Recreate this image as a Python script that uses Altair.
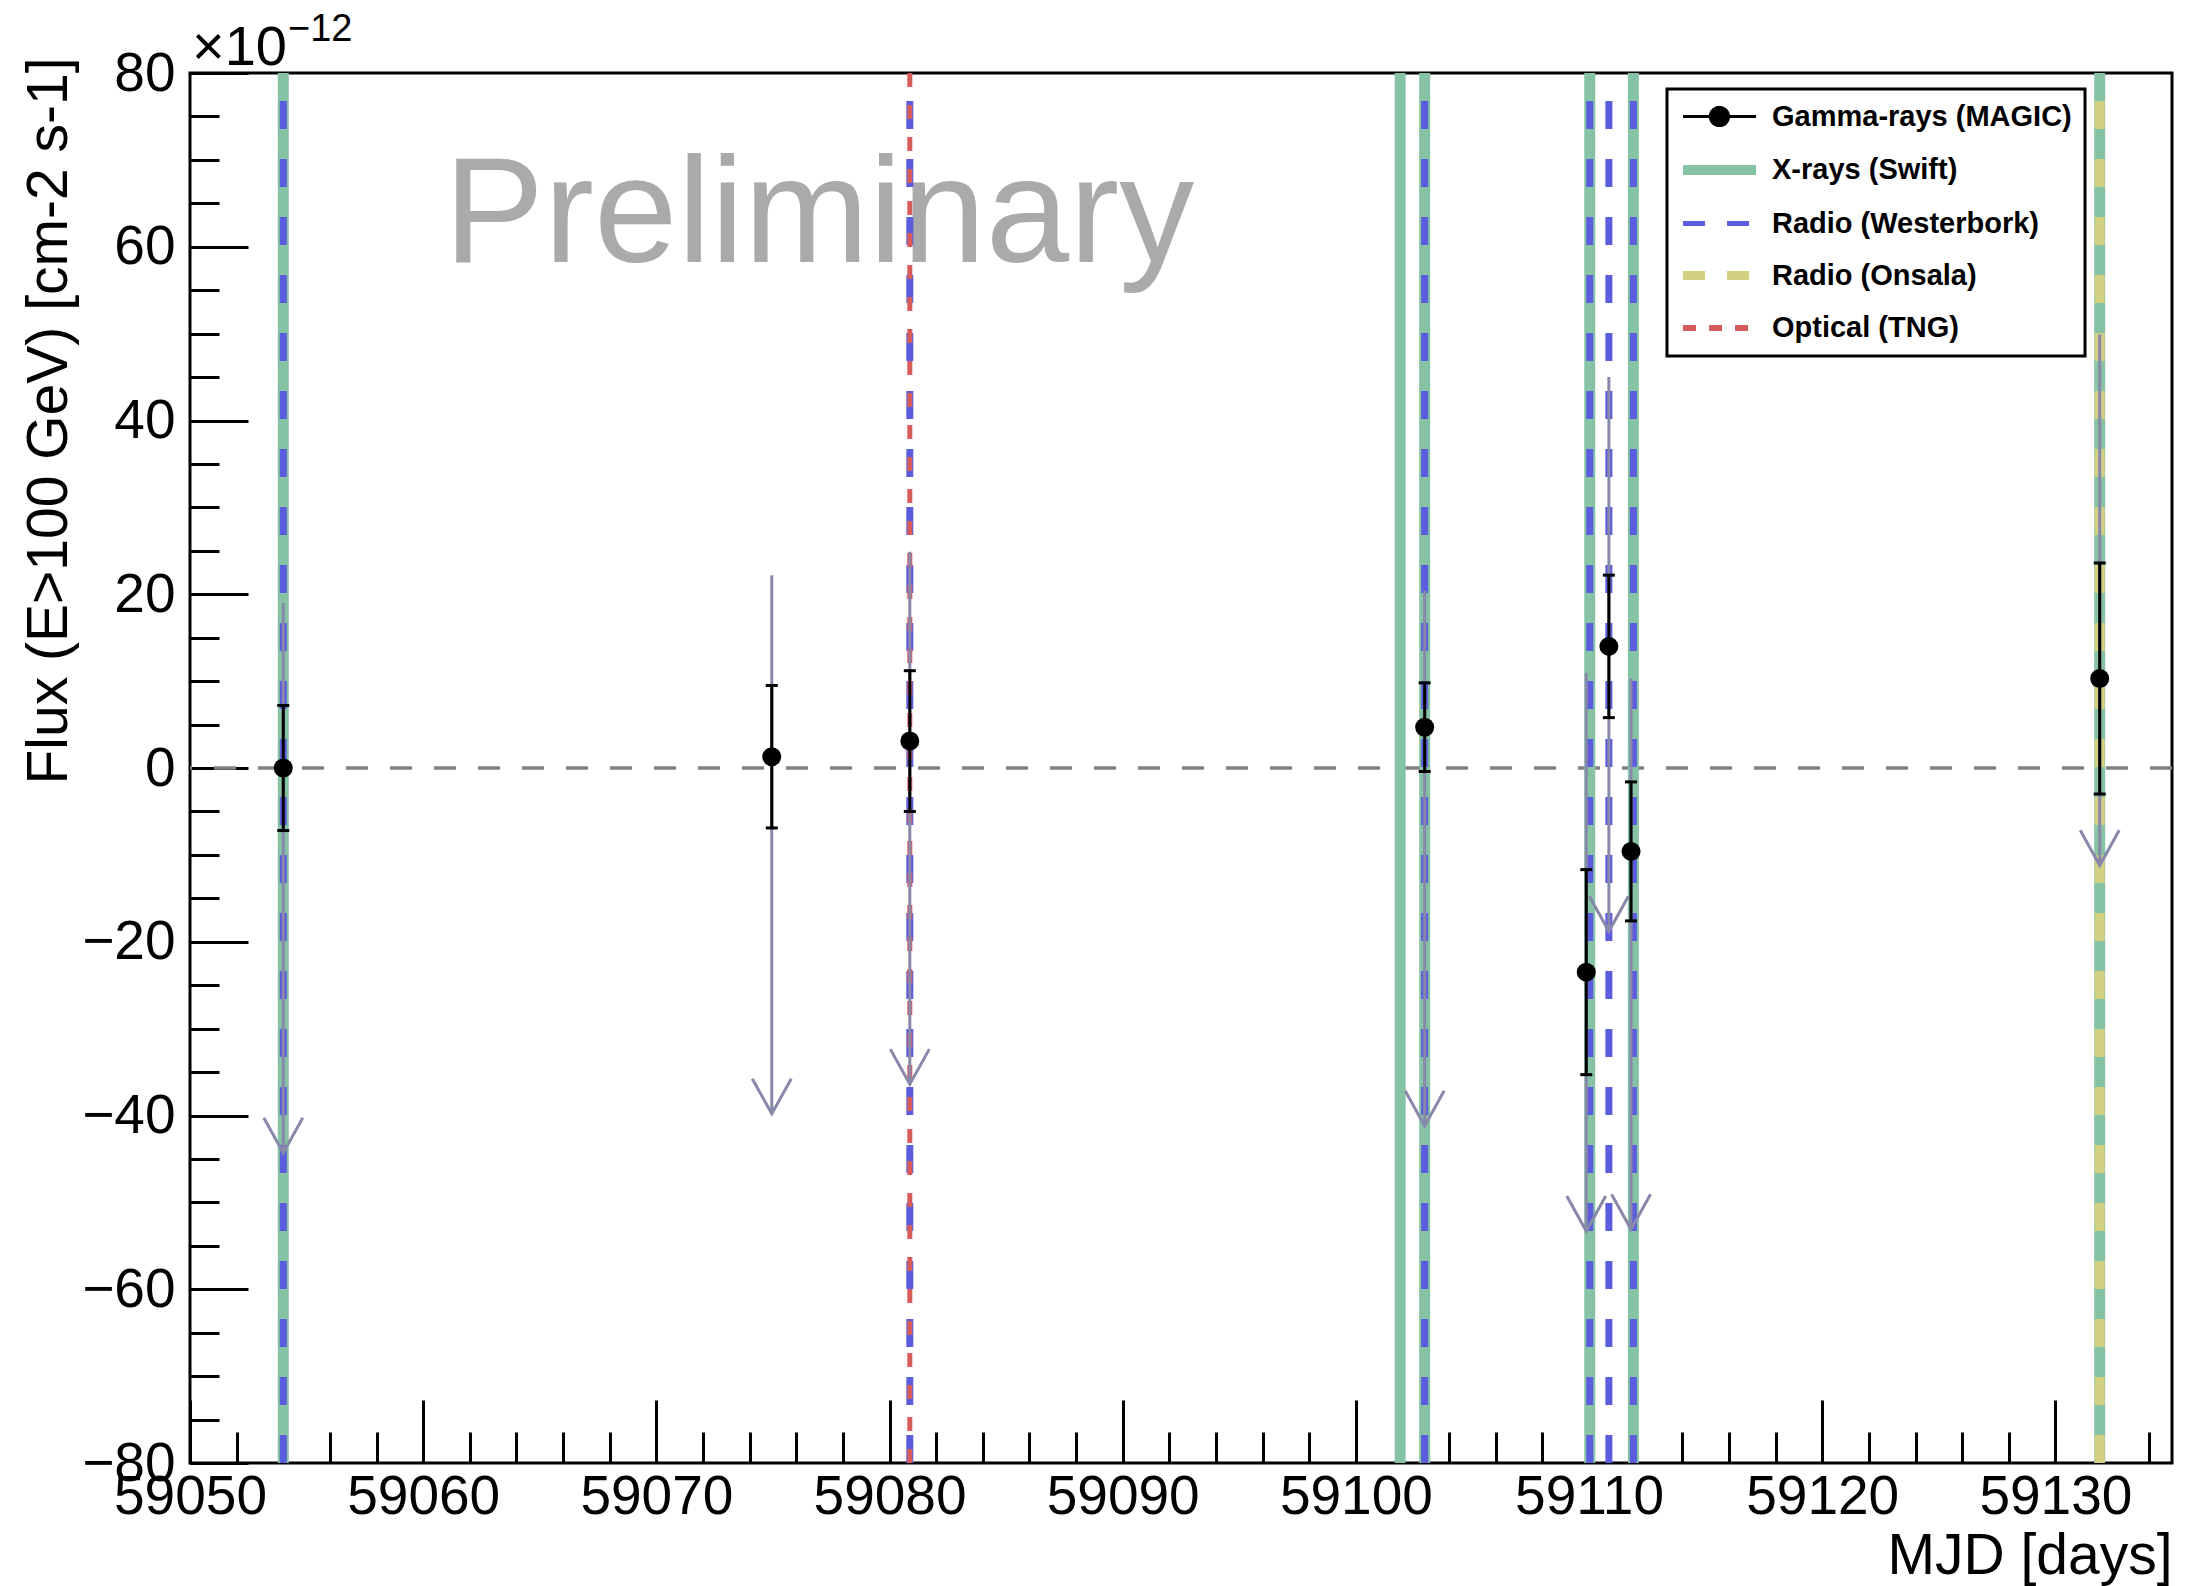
import altair as alt
import pandas as pd

# ---------------- data ----------------
# Gamma-rays (MAGIC) fluxes, in units of 1e-12 cm-2 s-1
gamma_mjd = [59054.0, 59074.95, 59080.87, 59102.95, 59109.88, 59110.85, 59111.8, 59131.9]
gamma_flux = [0.0, 1.3, 3.1, 4.7, -23.5, 14.0, -9.6, 10.3]
gamma_err = [7.2, 8.2, 8.1, 5.1, 11.8, 8.2, 8.0, 13.3]
# upper-limit arrows (start at UL value, tip lower down)
ul_value = [19.0, 22.2, 24.9, 20.4, 10.9, 45.0, 10.3, 49.9]
ul_arrow_end = [-44.3, -39.8, -36.4, -41.2, -53.3, -18.8, -53.1, -11.2]

# simultaneous observations (MJD)
xray_mjd = [59054.0, 59101.9, 59102.95, 59110.03, 59111.9, 59131.9]
westerbork_mjd = [59054.0, 59080.87, 59102.95, 59110.03, 59110.85, 59111.9]
onsala_mjd = [59131.9]
tng_mjd = [59080.87]

series_names = ["Gamma-rays (MAGIC)", "X-rays (Swift)", "Radio (Westerbork)",
                "Radio (Onsala)", "Optical (TNG)"]

x_range = [59050, 59135]
y_range = [-80, 80]
x_major_ticks = list(range(59050, 59131, 10))
x_minor_ticks = list(range(59050, 59136, 2))
y_major_ticks = list(range(-80, 81, 20))
y_minor_ticks = list(range(-80, 81, 5))

x_title = "MJD [days]"
y_title = "Flux (E>100 GeV) [cm-2 s-1]"
watermark = ["Preliminary"]
exponent_base = ["×10"]
exponent_power = ["−12"]

# ---------------- styling ----------------
FONT = "Liberation Sans"
GREEN = "#85c3a4"
BLUE = "#5c5cde"
YELLOW = "#d4d082"
RED = "#d65c5c"
ARROW = "#8888aa"
W, H = 1982, 1390

xs = alt.Scale(domain=x_range, nice=False, zero=False)
ys = alt.Scale(domain=y_range, nice=False, zero=False)

x_major_axis = alt.Axis(
    orient="bottom", values=x_major_ticks, format="d", tickSize=63, offset=-63,
    domain=False, grid=False, tickColor="black", tickWidth=3,
    labelFont=FONT, labelFontSize=55, labelColor="black", labelPadding=7,
    labelFlush=False, labelOverlap=False,
    title=x_title, titleFont=FONT, titleFontSize=57, titleFontWeight="normal",
    titleColor="black", titleX=W, titleY=173, titleAlign="right",
    titleBaseline="alphabetic", titleAngle=0,
)
x_minor_axis = alt.Axis(
    orient="bottom", values=x_minor_ticks, tickSize=31, offset=-31,
    domain=False, grid=False, labels=False, tickColor="black", tickWidth=3,
    title=None,
)
y_major_axis = alt.Axis(
    orient="left", values=y_major_ticks, tickSize=58, offset=-58,
    domain=False, grid=False, tickColor="black", tickWidth=3,
    labelFont=FONT, labelFontSize=55, labelColor="black", labelPadding=15,
    labelFlush=False, labelOverlap=False,
    title=y_title, titleFont=FONT, titleFontSize=57, titleFontWeight="normal",
    titleColor="black", titleX=-199, titleY=-16, titleAngle=-90,
    titleAlign="right", titleBaseline="middle",
)
y_minor_axis = alt.Axis(
    orient="left", values=y_minor_ticks, tickSize=29, offset=-29,
    domain=False, grid=False, labels=False, tickColor="black", tickWidth=3,
    title=None,
)

# ---------------- tables ----------------
gamma_df = pd.DataFrame({
    "mjd": gamma_mjd,
    "flux": gamma_flux,
    "lo": [f - e for f, e in zip(gamma_flux, gamma_err)],
    "hi": [f + e for f, e in zip(gamma_flux, gamma_err)],
    "ul": ul_value,
    "ul_end": ul_arrow_end,
})

# ---------------- layers ----------------
prelim = alt.Chart(pd.DataFrame({"t": watermark})).mark_text(
    font=FONT, fontSize=150, color="#aaaaaa", align="left", baseline="alphabetic"
).encode(text="t:N", x=alt.value(254), y=alt.value(189))

zero_line = alt.Chart(pd.DataFrame({"y": [0]})).mark_rule(
    color="#808080", strokeWidth=3.5, strokeDash=[22, 22]
).encode(y=alt.Y("y:Q", scale=ys, axis=None))


def vlines(values, color, width, dash=None):
    kw = dict(color=color, strokeWidth=width)
    if dash is not None:
        kw["strokeDash"] = dash
    df = pd.DataFrame({"mjd": values, "y0": y_range[0], "y1": y_range[1]})
    return alt.Chart(df).mark_rule(**kw).encode(
        x=alt.X("mjd:Q", scale=xs, axis=None),
        y=alt.Y("y0:Q", scale=ys, axis=None),
        y2="y1:Q",
    )


xray_rules = vlines(xray_mjd, GREEN, 11)
onsala_rules = vlines(onsala_mjd, YELLOW, 10, [28, 30])
wsrt_rules = vlines(westerbork_mjd, BLUE, 7, [28, 30])
tng_rules = vlines(tng_mjd, RED, 5, [14, 18])

base = alt.Chart(gamma_df)

ul_rules = base.mark_rule(color=ARROW, strokeWidth=3).encode(
    x=alt.X("mjd:Q", scale=xs, axis=None),
    y=alt.Y("ul:Q", scale=ys, axis=None),
    y2="ul_end:Q",
)
ul_heads = base.mark_point(
    shape="M-1,-1.8L0,0L1,-1.8", size=1521, filled=False, color=ARROW,
    strokeWidth=3, opacity=1,
).encode(
    x=alt.X("mjd:Q", scale=xs, axis=None),
    y=alt.Y("ul_end:Q", scale=ys, axis=None),
)

err_rules = base.mark_rule(color="black", strokeWidth=3).encode(
    x=alt.X("mjd:Q", scale=xs, axis=x_minor_axis),
    y=alt.Y("lo:Q", scale=ys, axis=y_minor_axis),
    y2="hi:Q",
)
cap_hi = base.mark_point(shape="stroke", size=144, filled=False, color="black",
                         strokeWidth=3, opacity=1).encode(
    x=alt.X("mjd:Q", scale=xs, axis=None),
    y=alt.Y("hi:Q", scale=ys, axis=None),
)
cap_lo = base.mark_point(shape="stroke", size=144, filled=False, color="black",
                         strokeWidth=3, opacity=1).encode(
    x=alt.X("mjd:Q", scale=xs, axis=None),
    y=alt.Y("lo:Q", scale=ys, axis=None),
)
points = base.mark_circle(size=361, color="black", opacity=1).encode(
    x=alt.X("mjd:Q", scale=xs, axis=x_major_axis),
    y=alt.Y("flux:Q", scale=ys, axis=y_major_axis),
)

# legend (drawn from the scales only; the layer itself has no visible marks)
LINE = "M-1.15,0H4.46"
DOT_LINE = "M-1.15,0H4.46M2.35,0A0.7,0.7,0,1,1,0.95,0A0.7,0.7,0,1,1,2.35,0Z"
leg = alt.Legend(
    title=None, orient="none", legendX=1477, legendY=16, symbolSize=676,
    labelFont=FONT, labelFontWeight="bold", labelFontSize=29, labelColor="black",
    labelOffset=56, rowPadding=18, padding=13, strokeColor="black",
    fillColor="white", labelLimit=0,
)
legend_layer = alt.Chart(pd.DataFrame({"series": series_names})).transform_filter(
    "false"
).mark_point(filled=False, fill="black", opacity=1).encode(
    color=alt.Color("series:N", scale=alt.Scale(
        domain=series_names, range=["black", GREEN, BLUE, YELLOW, RED]), legend=leg),
    shape=alt.Shape("series:N", scale=alt.Scale(
        domain=series_names, range=[DOT_LINE, LINE, LINE, LINE, LINE]), legend=leg),
    strokeDash=alt.StrokeDash("series:N", scale=alt.Scale(
        domain=series_names,
        range=[[1, 0], [1, 0], [22, 22], [22, 22], [13, 13]]), legend=leg),
    strokeWidth=alt.StrokeWidth("series:N", scale=alt.Scale(
        type="ordinal", domain=series_names, range=[3, 10, 5, 9, 6]), legend=leg),
)

exp_base = alt.Chart(pd.DataFrame({"t": exponent_base})).mark_text(
    font=FONT, fontSize=56, color="black", align="left", baseline="alphabetic"
).encode(text="t:N", x=alt.value(2), y=alt.value(-8))
exp_pow = alt.Chart(pd.DataFrame({"t": exponent_power})).mark_text(
    font=FONT, fontSize=38, color="black", align="left", baseline="alphabetic"
).encode(text="t:N", x=alt.value(98), y=alt.value(-32))

chart = alt.layer(
    prelim, zero_line, xray_rules, onsala_rules, wsrt_rules, tng_rules,
    ul_rules, ul_heads, err_rules, cap_hi, cap_lo, points, legend_layer,
    exp_base, exp_pow,
).resolve_axis(
    x="independent", y="independent"
).properties(
    width=W, height=H,
    padding={"left": 190, "top": 73, "right": 16, "bottom": 123},
    autosize=alt.AutoSizeParams(type="none"),
    background="white",
).configure_view(
    stroke="black", strokeWidth=3
).configure_legend(
    strokeWidth=3
)

chart.save("out.html", embed_options={"renderer": "svg", "actions": False})
